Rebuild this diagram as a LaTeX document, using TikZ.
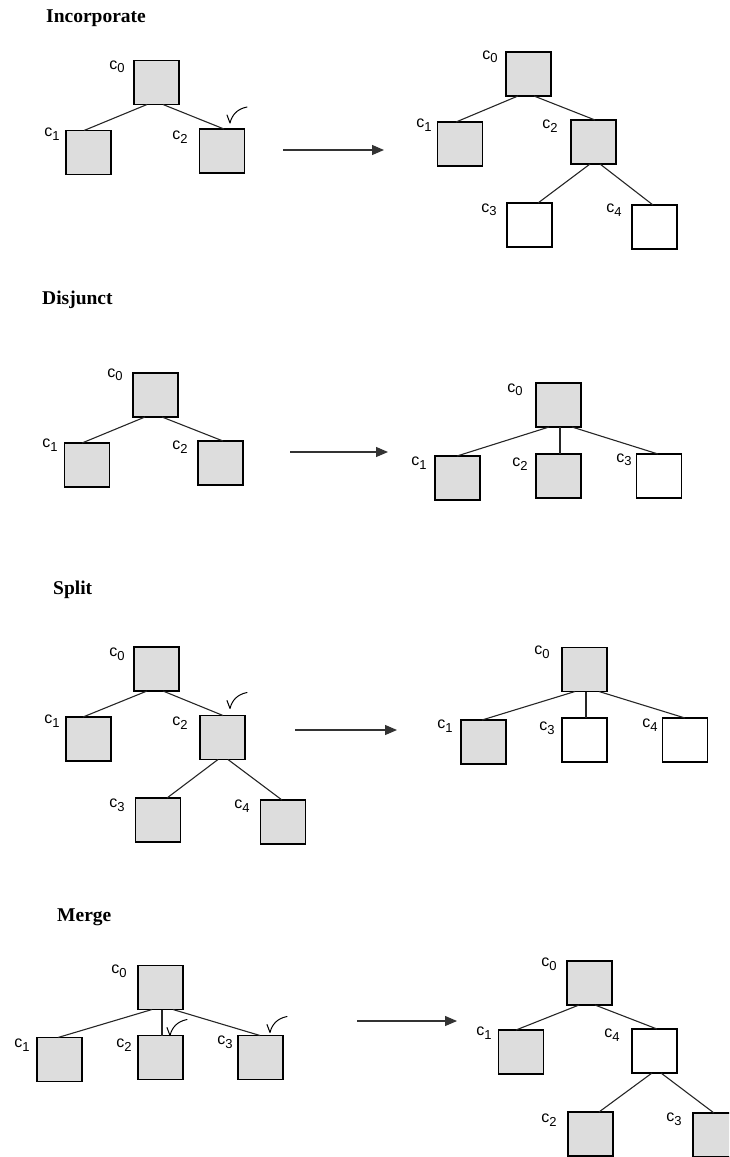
\documentclass[tikz,border=0pt]{standalone}
\usepackage{fontspec}
\setmainfont{Liberation Serif}
\newfontfamily\sansf{Liberation Sans}
\usetikzlibrary{calc,arrows.meta}
\definecolor{boxgray}{RGB}{221,221,221}
\newcommand\cl[1]{{\fontsize{16}{16}\selectfont c}\raisebox{-3.5pt}{\fontsize{13}{13}\selectfont #1}}
\newcommand\lnk[4]{\draw[edge] ($(#1.south)+(#2,0)$) -- ($(#3.north)+(#4,0)$);}
\newcommand\tck[3]{\begin{scope}[shift={($(#1.north)+(#2,#3)$)}]\draw[tickline] (0,0) -- (3,8) .. controls (5,0) and (10,-6) .. (20,-8);\end{scope}}
\begin{document}
\begin{tikzpicture}[x=1pt,y=-1pt,
  basebox/.style={draw=black, line width=1.4pt, minimum width=45pt, minimum height=44pt, inner sep=0pt, outer sep=0pt},
  graybox/.style={basebox, fill=boxgray},
  whitebox/.style={basebox, fill=white},
  edge/.style={draw=black!85, line width=1.1pt},
  lab/.style={inner sep=0pt, font=\sansf},
  ttl/.style={anchor=west, inner sep=0pt, font=\fontsize{19.5}{20}\selectfont\bfseries},
  trans/.style={draw=black!80, line width=1.2pt, -{Triangle[length=12pt,width=10pt]}},
  tickline/.style={draw=black, line width=1pt, line cap=round, line join=round}]
\useasboundingbox (0,0) rectangle (729,1157);
\clip (0,0) rectangle (729,1157);

% ---------- Incorporate ----------
\node[ttl] (t1) at (46,18) {Incorporate};
\node[graybox] (ia0) at (156.5,82.5) {};
\node[graybox] (ia1) at (88.5,152.5) {};
\node[graybox] (ia2) at (222,151) {};
\lnk{ia0}{-9.5}{ia1}{-4.5}
\lnk{ia0}{6.5}{ia2}{2}
\node[lab] (ia0l) at (117,67) {\cl{0}};
\node[lab] (ia1l) at (52,134) {\cl{1}};
\node[lab] (ia2l) at (180,137) {\cl{2}};
\tck{ia2}{5}{-14}

\coordinate (ar1s) at (283,150);
\coordinate (ar1e) at (384,150);
\draw[trans] (ar1s) -- (ar1e);

\node[graybox] (ib0) at (528.5,74) {};
\node[graybox] (ib1) at (460,144) {};
\node[graybox] (ib2) at (593.5,142) {};
\node[whitebox] (ib3) at (529.5,225) {};
\node[whitebox] (ib4) at (654.5,227) {};
\lnk{ib0}{-10.5}{ib1}{-4}
\lnk{ib0}{5.5}{ib2}{1.5}
\lnk{ib2}{-3.5}{ib3}{8.5}
\lnk{ib2}{6.5}{ib4}{-1.5}
\node[lab] (ib0l) at (490,57) {\cl{0}};
\node[lab] (ib1l) at (424,125) {\cl{1}};
\node[lab] (ib2l) at (550,126) {\cl{2}};
\node[lab] (ib3l) at (489,210) {\cl{3}};
\node[lab] (ib4l) at (614,210) {\cl{4}};

% ---------- Disjunct ----------
\node[ttl] (t2) at (42,300) {Disjunct};
\node[graybox] (da0) at (155.5,395) {};
\node[graybox] (da1) at (87,465) {};
\node[graybox] (da2) at (220.5,463) {};
\lnk{da0}{-10.5}{da1}{-5}
\lnk{da0}{6.5}{da2}{2.5}
\node[lab] (da0l) at (115,375) {\cl{0}};
\node[lab] (da1l) at (50,445) {\cl{1}};
\node[lab] (da2l) at (180,447) {\cl{2}};

\coordinate (ar2s) at (290,452);
\coordinate (ar2e) at (388,452);
\draw[trans] (ar2s) -- (ar2e);

\node[graybox] (db0) at (558.5,405) {};
\node[graybox] (db1) at (457.5,478) {};
\node[graybox] (db2) at (558.5,476) {};
\node[whitebox] (db3) at (659,476) {};
\lnk{db0}{-9.5}{db1}{-0.5}
\lnk{db0}{1.5}{db2}{1.5}
\lnk{db0}{13.5}{db3}{-1}
\node[lab] (db0l) at (515,390) {\cl{0}};
\node[lab] (db1l) at (419,463) {\cl{1}};
\node[lab] (db2l) at (520,464) {\cl{2}};
\node[lab] (db3l) at (624,460) {\cl{3}};

% ---------- Split ----------
\node[ttl] (t3) at (53,590) {Split};
\node[graybox] (sa0) at (156.5,669) {};
\node[graybox] (sa1) at (88.5,739) {};
\node[graybox] (sa2) at (222.5,737.5) {};
\node[graybox] (sa3) at (158,820) {};
\node[graybox] (sa4) at (283,822) {};
\lnk{sa0}{-9.5}{sa1}{-5.5}
\lnk{sa0}{6.5}{sa2}{0.5}
\lnk{sa2}{-4.5}{sa3}{9}
\lnk{sa2}{5.5}{sa4}{-1}
\node[lab] (sa0l) at (117,654) {\cl{0}};
\node[lab] (sa1l) at (52,721) {\cl{1}};
\node[lab] (sa2l) at (180,723) {\cl{2}};
\node[lab] (sa3l) at (117,805) {\cl{3}};
\node[lab] (sa4l) at (242,806) {\cl{4}};
\tck{sa2}{4.5}{-15}

\coordinate (ar3s) at (295,730);
\coordinate (ar3e) at (397,730);
\draw[trans] (ar3s) -- (ar3e);

\node[graybox] (sb0) at (584.5,669.5) {};
\node[graybox] (sb1) at (483.5,742) {};
\node[whitebox] (sb3) at (584.5,740) {};
\node[whitebox] (sb4) at (685,740) {};
\lnk{sb0}{-9.5}{sb1}{-1.5}
\lnk{sb0}{1.5}{sb3}{1.5}
\lnk{sb0}{14.5}{sb4}{0}
\node[lab] (sb0l) at (542,652) {\cl{0}};
\node[lab] (sb1l) at (445,726) {\cl{1}};
\node[lab] (sb3l) at (547,728) {\cl{3}};
\node[lab] (sb4l) at (650,725) {\cl{4}};

% ---------- Merge ----------
\node[ttl] (t4) at (57,917) {Merge};
\node[graybox] (ma0) at (160.5,987.5) {};
\node[graybox] (ma1) at (59.5,1059.5) {};
\node[graybox] (ma2) at (160.5,1057.5) {};
\node[graybox] (ma3) at (260.5,1057.5) {};
\lnk{ma0}{-8.5}{ma1}{-1.5}
\lnk{ma0}{1.5}{ma2}{1.5}
\lnk{ma0}{12.5}{ma3}{-0.5}
\node[lab] (ma0l) at (119,971) {\cl{0}};
\node[lab] (ma1l) at (22,1045) {\cl{1}};
\node[lab] (ma2l) at (124,1045) {\cl{2}};
\node[lab] (ma3l) at (225,1042) {\cl{3}};
\tck{ma2}{6.5}{-8}
\tck{ma3}{6.5}{-11}

\coordinate (ar4s) at (357,1021);
\coordinate (ar4e) at (457,1021);
\draw[trans] (ar4s) -- (ar4e);

\node[graybox] (mb0) at (589.5,983) {};
\node[graybox] (mb1) at (521,1052) {};
\node[whitebox] (mb4) at (654.5,1051) {};
\node[graybox] (mb2) at (590.5,1134) {};
\node[graybox] (mb3) at (715.5,1135) {};
\lnk{mb0}{-10.5}{mb1}{-5}
\lnk{mb0}{5.5}{mb4}{2.5}
\lnk{mb4}{-2.5}{mb2}{8.5}
\lnk{mb4}{6.5}{mb3}{-1.5}
\node[lab] (mb0l) at (549,964) {\cl{0}};
\node[lab] (mb1l) at (484,1033) {\cl{1}};
\node[lab] (mb4l) at (612,1035) {\cl{4}};
\node[lab] (mb2l) at (549,1120) {\cl{2}};
\node[lab] (mb3l) at (674,1119) {\cl{3}};
\end{tikzpicture}
\end{document}
